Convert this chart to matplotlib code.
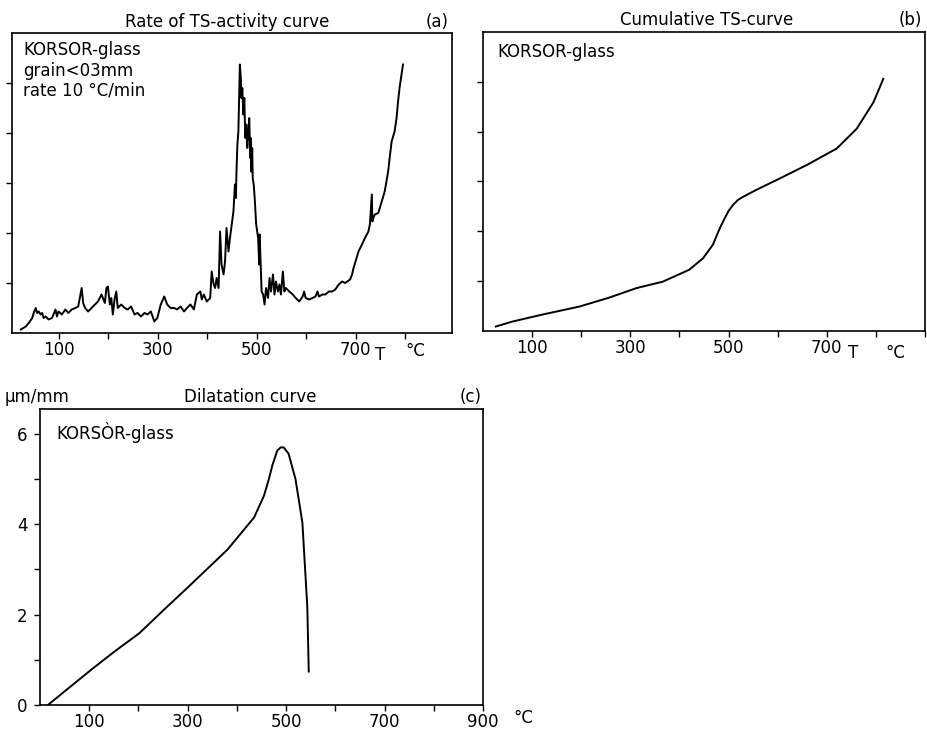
import numpy as np
import matplotlib as mpl
import matplotlib.pyplot as plt
from matplotlib.ticker import FixedLocator

mpl.rcParams['font.family'] = 'DejaVu Sans'
mpl.rcParams['font.size'] = 12

# (a) rate of TS-activity (temperature in degC, arbitrary units)
rate_t = [23, 33, 39, 46, 49, 53, 56, 59, 63, 66, 69, 73, 79, 86, 93, 96, 99, 106, 113, 119,
          126, 133, 139, 146, 149, 153, 159, 166, 173, 179, 186, 193, 196, 199, 203, 206, 209, 213, 216, 219,
          226, 233, 239, 246, 253, 259, 266, 273, 279, 286, 293, 299, 306, 313, 319, 326, 333, 339, 346, 353,
          359, 366, 373, 379, 386, 389, 393, 399, 406, 409, 413, 416, 419, 423, 426, 429, 433, 436, 439, 443,
          446, 453, 456, 458, 459, 461, 463, 465, 466, 468, 469, 471, 473, 475, 477, 479, 481, 483, 485, 487,
          488, 489, 491, 492, 494, 496, 499, 503, 505, 506, 508, 510, 513, 516, 519, 523, 526, 529, 533, 536,
          539, 543, 546, 549, 553, 556, 559, 566, 573, 579, 586, 593, 596, 599, 606, 613, 619, 623, 626, 633,
          639, 646, 653, 659, 666, 673, 679, 689, 693, 696, 703, 706, 713, 719, 726, 729, 733, 734, 736, 739,
          746, 749, 753, 759, 766, 769, 773, 779, 783, 786, 789, 793, 796]
rate_v = [0.07, 0.13, 0.20, 0.30, 0.40, 0.50, 0.40, 0.43, 0.37, 0.40, 0.30, 0.33, 0.27, 0.30, 0.47, 0.33, 0.43, 0.37, 0.47, 0.40,
          0.47, 0.50, 0.53, 0.90, 0.60, 0.50, 0.43, 0.50, 0.57, 0.63, 0.77, 0.60, 0.90, 0.93, 0.57, 0.70, 0.37, 0.70, 0.83, 0.50,
          0.57, 0.50, 0.47, 0.53, 0.37, 0.40, 0.33, 0.40, 0.37, 0.43, 0.23, 0.30, 0.57, 0.73, 0.57, 0.50, 0.50, 0.47, 0.53, 0.43,
          0.50, 0.57, 0.47, 0.77, 0.83, 0.67, 0.77, 0.63, 0.70, 1.23, 0.97, 0.90, 1.10, 0.90, 2.03, 1.37, 1.17, 1.43, 2.10, 1.63,
          1.90, 2.43, 2.97, 2.70, 3.17, 3.77, 4.03, 4.97, 5.37, 5.10, 4.70, 4.90, 4.37, 4.70, 3.90, 4.17, 3.70, 4.03, 4.30, 3.50,
          3.90, 3.23, 3.70, 3.10, 2.97, 2.70, 2.17, 1.90, 1.37, 1.97, 1.43, 0.83, 0.77, 0.57, 0.90, 0.70, 1.10, 0.83, 1.17, 0.77,
          1.03, 0.83, 0.97, 0.77, 1.23, 0.83, 0.90, 0.83, 0.77, 0.70, 0.63, 0.73, 0.83, 0.70, 0.67, 0.70, 0.73, 0.83, 0.73, 0.77,
          0.77, 0.83, 0.83, 0.87, 0.97, 1.03, 1.00, 1.07, 1.17, 1.30, 1.53, 1.63, 1.77, 1.90, 2.03, 2.17, 2.77, 2.23, 2.30, 2.37,
          2.40, 2.50, 2.63, 2.83, 3.23, 3.50, 3.83, 4.03, 4.30, 4.63, 4.90, 5.17, 5.37]

# (b) cumulative TS-curve
cum_t = [26, 60, 121, 196, 257, 312, 366, 420, 448, 468, 482, 492, 500, 509, 519, 529, 556, 604, 659, 720, 761, 795, 815]
cum_v = [0.09, 0.19, 0.33, 0.49, 0.67, 0.86, 0.99, 1.23, 1.46, 1.73, 2.06, 2.26, 2.41, 2.53, 2.63, 2.69, 2.83, 3.06,
         3.33, 3.66, 4.06, 4.59, 5.06]

# (c) dilatation curve, um/mm
dil_t = [16, 104, 151, 202, 252, 303, 381, 435, 455, 465, 472, 482, 489, 495, 505, 519, 533, 543, 546]
dil_v = [0.0, 0.78, 1.18, 1.59, 2.11, 2.63, 3.44, 4.15, 4.63, 5.00, 5.30, 5.63, 5.70, 5.70, 5.56, 5.00, 4.04, 2.18, 0.74]

x_major = [100, 300, 500, 700, 900]
x_minor = [200, 400, 600, 800]


def style_axes(ax, xlim, ylim):
    ax.set_xlim(*xlim)
    ax.set_ylim(*ylim)
    for s in ax.spines.values():
        s.set_linewidth(1.2)
    ax.xaxis.set_major_locator(FixedLocator(x_major))
    ax.xaxis.set_minor_locator(FixedLocator(x_minor))
    ax.tick_params(axis='both', which='both', direction='out', length=4, width=1.0, pad=1.5, labelsize=12)


fig = plt.figure(figsize=(9.28, 7.32), dpi=100)

# panel (a)
ax1 = fig.add_axes([0.0129, 0.5451, 0.4741, 0.4098])
ax1.plot(rate_t, rate_v, color='black', lw=1.4)
style_axes(ax1, (5, 895), (0, 6.0))
ax1.set_xticklabels(['100', '300', '500', '700', ''])
ax1.yaxis.set_major_locator(FixedLocator([1, 2, 3, 4, 5]))
ax1.set_yticklabels([])
ax1.text(0.49, 1.037, 'Rate of TS-activity curve', transform=ax1.transAxes, ha='center', va='center')
ax1.text(0.966, 1.037, '(a)', transform=ax1.transAxes, ha='center', va='center')
ax1.text(0.025, 0.943, 'KORSOR-glass', transform=ax1.transAxes, ha='left', va='center')
ax1.text(0.025, 0.873, 'grain<03mm', transform=ax1.transAxes, ha='left', va='center')
ax1.text(0.025, 0.810, 'rate 10 \u00b0C/min', transform=ax1.transAxes, ha='left', va='center')
ax1.text(0.836, -0.072, 'T', transform=ax1.transAxes, ha='center', va='center')
ax1.text(0.916, -0.06, '\u00b0C', transform=ax1.transAxes, ha='center', va='center')

# panel (b)
ax2 = fig.add_axes([0.5205, 0.5478, 0.4763, 0.4085])
ax2.plot(cum_t, cum_v, color='black', lw=1.4)
style_axes(ax2, (0, 900), (0, 6.0))
ax2.set_xticklabels(['100', '300', '500', '700', ''])
ax2.yaxis.set_major_locator(FixedLocator([1, 2, 3, 4, 5]))
ax2.set_yticklabels([])
ax2.text(0.507, 1.04, 'Cumulative TS-curve', transform=ax2.transAxes, ha='center', va='center')
ax2.text(0.966, 1.04, '(b)', transform=ax2.transAxes, ha='center', va='center')
ax2.text(0.032, 0.933, 'KORSOR-glass', transform=ax2.transAxes, ha='left', va='center')
ax2.text(0.837, -0.075, 'T', transform=ax2.transAxes, ha='center', va='center')
ax2.text(0.932, -0.075, '\u00b0C', transform=ax2.transAxes, ha='center', va='center')

# panel (c)
ax3 = fig.add_axes([0.0431, 0.0369, 0.4774, 0.4044])
ax3.plot(dil_t, dil_v, color='black', lw=1.4)
style_axes(ax3, (0, 900), (0, 6.55))
ax3.yaxis.set_major_locator(FixedLocator([0, 2, 4, 6]))
ax3.yaxis.set_minor_locator(FixedLocator([1, 3, 5]))
ax3.tick_params(axis='y', which='major', pad=5)
ax3.text(0.474, 1.04, 'Dilatation curve', transform=ax3.transAxes, ha='center', va='center')
ax3.text(0.971, 1.04, '(c)', transform=ax3.transAxes, ha='center', va='center')
ax3.text(-0.079, 1.04, '\u03bcm/mm', transform=ax3.transAxes, ha='left', va='center')
ax3.text(0.038, 0.919, 'KORS\u00d2R-glass', transform=ax3.transAxes, ha='left', va='center')
ax3.text(1.09, -0.045, '\u00b0C', transform=ax3.transAxes, ha='center', va='center')

fig.savefig('out.png', dpi=100)
